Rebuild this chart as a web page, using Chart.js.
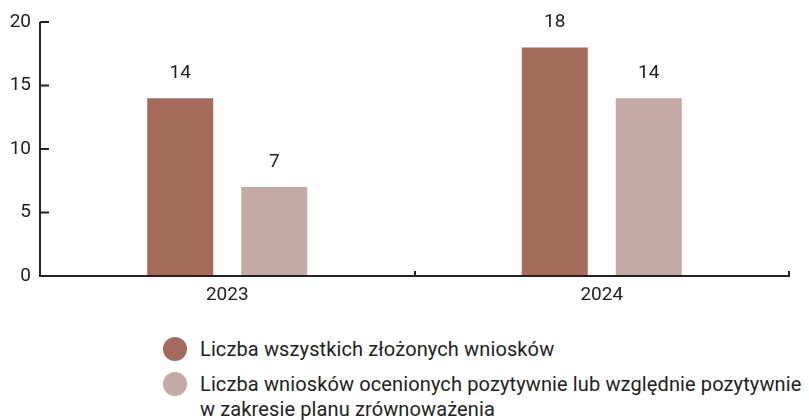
<!DOCTYPE html>
<html>
<head>
<meta charset="utf-8">
<script src="https://cdn.jsdelivr.net/npm/chart.js@4"></script>
<style>
  html, body { margin: 0; padding: 0; background: #fff; }
  #wrap { position: relative; width: 809px; height: 420px; font-family: Roboto, "Noto Sans", sans-serif; color: #222; }
  #chart { position: absolute; left: 0; top: 0; }
  #legend { position: absolute; left: 163px; top: 337px; font-size: 20px; line-height: 25px; letter-spacing: 0.12px; white-space: nowrap; }
  .item { display: flex; align-items: flex-start; margin-bottom: 10px; }
  .dot { width: 24px; height: 24px; border-radius: 50%; margin-right: 13px; flex: none; }
</style>
</head>
<body>
<div id="wrap">
  <canvas id="chart" width="809" height="320"></canvas>
  <div id="legend"></div>
</div>
<script>
// Data
const years = ['2023', '2024'];
const allApplications = [14, 18];
const positiveApplications = [7, 14];
const seriesNames = [
    'Liczba wszystkich złożonych wniosków',
    'Liczba wniosków ocenionych pozytywnie lub względnie pozytywnie<br>w zakresie planu zrównoważenia'
];
const yTicks = [0, 5, 10, 15, 20];

const colors = ['#a46a5c', '#c4aaa5'];
const axisColor = '#222';
const fontFamily = 'Roboto, "Noto Sans", sans-serif';

// Axes + value labels drawn on top of the chart
const axesPlugin = {
    id: 'axes',
    afterDraw(chart) {
        const ctx = chart.ctx;
        const x = chart.scales.x;
        const y = chart.scales.y;
        const left = x.left, right = x.right;
        const bottom = y.getPixelForValue(0);
        const top = y.getPixelForValue(20);
        ctx.save();
        ctx.strokeStyle = axisColor;
        ctx.lineWidth = 2;
        ctx.beginPath();
        ctx.moveTo(left, top);
        ctx.lineTo(left, bottom);
        ctx.lineTo(right, bottom);
        ctx.lineTo(right, bottom - 5);
        // y ticks (inward)
        yTicks.forEach(v => {
            const py = y.getPixelForValue(v);
            ctx.moveTo(left, py);
            ctx.lineTo(left + 9, py);
        });
        // category boundaries
        const w = (right - left) / years.length;
        for (let k = 1; k < years.length; k++) {
            const px = Math.round(left + k * w);
            ctx.moveTo(px, bottom);
            ctx.lineTo(px, bottom - 5);
        }
        ctx.stroke();
        ctx.restore();
    },
    afterDatasetsDraw(chart) {
        const ctx = chart.ctx;
        ctx.save();
        ctx.fillStyle = axisColor;
        ctx.font = '19px ' + fontFamily;
        ctx.textAlign = 'center';
        ctx.textBaseline = 'alphabetic';
        chart.data.datasets.forEach((ds, di) => {
            chart.getDatasetMeta(di).data.forEach((bar, i) => {
                ctx.fillText(ds.data[i], bar.x, bar.y - 20);
            });
        });
        ctx.restore();
    }
};

new Chart(document.getElementById('chart'), {
    type: 'bar',
    data: {
        labels: years,
        datasets: [
            { label: seriesNames[0], data: allApplications, backgroundColor: colors[0] },
            { label: seriesNames[1], data: positiveApplications, backgroundColor: colors[1] }
        ]
    },
    options: {
        responsive: false,
        animation: false,
        layout: { padding: { top: 22, right: 20, bottom: 0, left: 0 } },
        datasets: { bar: { categoryPercentage: 0.502, barPercentage: 0.702 } },
        plugins: { legend: { display: false }, tooltip: { enabled: false } },
        scales: {
            x: {
                grid: { display: false, drawTicks: false },
                border: { display: false },
                ticks: { color: axisColor, font: { family: fontFamily, size: 19 }, padding: 8 },
                afterFit(s) { s.height = 44; }
            },
            y: {
                min: 0, max: 20,
                grid: { display: false, drawTicks: false },
                border: { display: false },
                ticks: { stepSize: 5, color: axisColor, font: { family: fontFamily, size: 19 }, padding: 9 },
                afterFit(s) { s.width = 40; }
            }
        }
    },
    plugins: [axesPlugin]
});

// HTML legend
const legendEl = document.getElementById('legend');
seriesNames.forEach((name, i) => {
    const item = document.createElement('div');
    item.className = 'item';
    item.innerHTML = `<span class="dot" style="background:${colors[i]}"></span><span>${name}</span>`;
    legendEl.appendChild(item);
});
</script>
</body>
</html>
